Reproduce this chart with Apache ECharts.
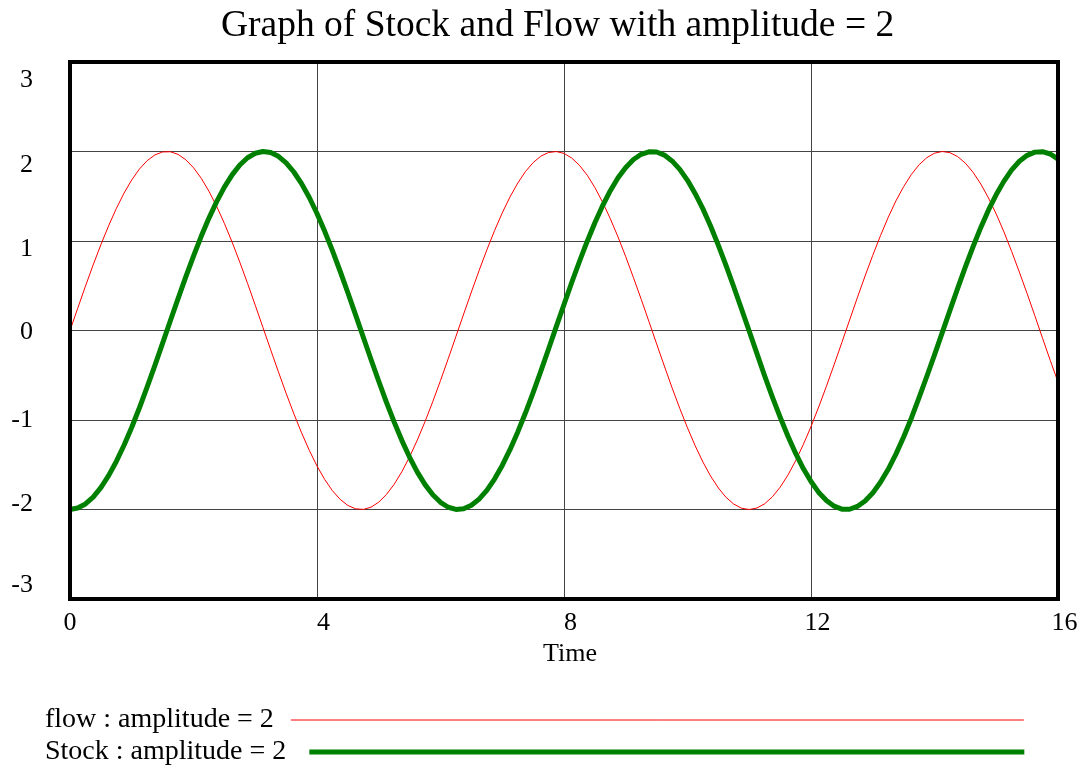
<!DOCTYPE html>
<html>
<head>
<meta charset="utf-8">
<script src="https://cdn.jsdelivr.net/npm/echarts@6/dist/echarts.min.js"></script>
<style>html,body{margin:0;padding:0;background:#fff}#c{width:1084px;height:769px}</style>
</head>
<body>
<div id="c"></div>
<script>
// Time axis samples (read every 0.125 time units, 0..16)
var times = [];
for (var i = 0; i <= 128; i++) times.push(i * 0.125);

var flowValues = [0, 0.249, 0.495, 0.733, 0.959, 1.170, 1.363, 1.535, 1.683, 1.805, 1.898, 1.962, 1.995, 1.997, 1.968, 1.908,
  1.819, 1.701, 1.556, 1.387, 1.197, 0.988, 0.763, 0.527, 0.282, 0.033, -0.216, -0.462, -0.702, -0.930, -1.143, -1.339,
  -1.514, -1.665, -1.790, -1.887, -1.955, -1.992, -1.999, -1.974, -1.918, -1.832, -1.718, -1.577, -1.411, -1.223, -1.017, -0.794,
  -0.559, -0.315, -0.066, 0.184, 0.430, 0.670, 0.900, 1.116, 1.314, 1.492, 1.646, 1.775, 1.876, 1.948, 1.989, 1.999,
  1.979, 1.927, 1.846, 1.736, 1.597, 1.434, 1.249, 1.045, 0.824, 0.590, 0.349, 0.101, -0.150, -0.397, -0.640, -0.871,
  -1.088, -1.289, -1.470, -1.628, -1.760, -1.865, -1.940, -1.986, -2.000, -1.983, -1.936, -1.858, -1.751, -1.617, -1.457, -1.275,
  -1.073, -0.854, -0.622, -0.380, -0.133, 0.117, 0.366, 0.608, 0.840, 1.060, 1.264, 1.448, 1.607, 1.743, 1.852, 1.931,
  1.981, 2.000, 1.987, 1.943, 1.870, 1.767, 1.636, 1.480, 1.301, 1.101, 0.882, 0.651, 0.412, 0.165, -0.087, -0.335, -0.576];

var stockValues = [-2.000, -1.984, -1.938, -1.861, -1.755, -1.622, -1.463, -1.282, -1.081, -0.863, -0.631, -0.390, -0.141, 0.109, 0.356, 0.599,
  0.832, 1.052, 1.256, 1.440, 1.602, 1.739, 1.849, 1.930, 1.980, 2.000, 1.988, 1.946, 1.873, 1.771, 1.641, 1.486,
  1.307, 1.108, 0.892, 0.662, 0.422, 0.175, -0.075, -0.324, -0.567, -0.802, -1.024, -1.230, -1.417, -1.582, -1.722, -1.835,
  -1.920, -1.975, -1.999, -1.992, -1.953, -1.884, -1.786, -1.660, -1.508, -1.332, -1.136, -0.922, -0.693, -0.454, -0.207, 0.043,
  0.291, 0.536, 0.771, 0.995, 1.204, 1.394, 1.562, 1.706, 1.822, 1.911, 1.969, 1.997, 1.994, 1.960, 1.895, 1.800,
  1.678, 1.529, 1.359, 1.165, 0.951, 0.724, 0.486, 0.240, -0.009, -0.258, -0.508, -0.745, -0.967, -1.178, -1.371, -1.542,
  -1.688, -1.809, -1.900, -1.963, -1.996, -1.997, -1.966, -1.905, -1.815, -1.696, -1.551, -1.381, -1.190, -0.980, -0.751, -0.514,
  -0.273, -0.024, 0.225, 0.471, 0.710, 0.938, 1.152, 1.347, 1.519, 1.669, 1.795, 1.891, 1.957, 1.993, 1.998, 1.972, 1.915];

var seriesNames = ['flow : amplitude = 2', 'Stock : amplitude = 2'];
var titleText = 'Graph of Stock and Flow with amplitude = 2';
var xAxisName = 'Time';

var FONT = '"Liberation Serif", "Times New Roman", serif';

function pairs(xs, ys) { return xs.map(function (x, i) { return [x, ys[i]]; }); }

var yLabelShift = { '3': 'p3', '2': 'p2', '1': 'p1', '0': 'p0', '-1': 'm1', '-2': 'm2', '-3': 'm3' };
function rs(pad) { return { fontFamily: FONT, fontSize: 26, color: '#000', padding: pad }; }

var hiddenSymbol = { color: 'rgba(0,0,0,0)', borderWidth: 0, opacity: 0 };

var chart = echarts.init(document.getElementById('c'), null, { renderer: 'canvas' });
chart.setOption({
  animation: false,
  backgroundColor: '#fff',
  title: {
    text: titleText,
    left: 216, top: 2,
    textStyle: { fontFamily: FONT, fontSize: 37.5, fontWeight: 'normal', color: '#000' }
  },
  grid: {
    left: 70, top: 62, right: 26, bottom: 170,
    show: true, borderColor: '#000', borderWidth: 4, backgroundColor: 'transparent', z: 5
  },
  xAxis: {
    type: 'value', min: 0, max: 16, interval: 4,
    name: xAxisName, nameLocation: 'middle', nameGap: 35,
    nameTextStyle: { fontFamily: FONT, fontSize: 26, color: '#000', padding: [0, 0, 0, 12] },
    axisLine: { show: false }, axisTick: { show: false },
    axisLabel: {
      fontFamily: FONT, fontSize: 26, color: '#000', margin: 11,
      formatter: function (v) { return v === 0 ? '{a|' + v + '}' : '{b|' + v + '}'; },
      rich: {
        a: rs([0, 0, 0, 0]),
        b: rs([0, 0, 0, 13])
      }
    },
    splitLine: { show: true, showMinLine: false, showMaxLine: false, lineStyle: { color: '#444', width: 1 } }
  },
  yAxis: {
    type: 'value', min: -3, max: 3, interval: 1,
    axisLine: { show: false }, axisTick: { show: false },
    axisLabel: {
      margin: 37, fontFamily: FONT, fontSize: 26, color: '#000',
      formatter: function (v) { return '{' + yLabelShift[String(v)] + '|' + v + '}'; },
      rich: {
        p3: rs([37, 0, 0, 0]), p2: rs([27, 0, 0, 0]), p1: rs([16, 0, 0, 0]), p0: rs([4, 0, 0, 0]),
        m1: rs([0, 0, 0, 0]), m2: rs([0, 0, 10, 0]), m3: rs([0, 0, 28, 0])
      }
    },
    splitLine: { show: true, showMinLine: false, showMaxLine: false, lineStyle: { color: '#444', width: 1 } }
  },
  legend: [
    {
      data: [seriesNames[0]], left: 40, top: 701, align: 'right',
      itemWidth: 733, itemHeight: 12,
      lineStyle: { width: 1 }, itemStyle: hiddenSymbol,
      textStyle: { fontFamily: FONT, fontSize: 28, color: '#000', padding: [0, 12, 0, 0] },
      selectedMode: false
    },
    {
      data: [seriesNames[1]], left: 40, top: 733, align: 'right',
      itemWidth: 715, itemHeight: 12,
      lineStyle: { width: 5 }, itemStyle: hiddenSymbol,
      textStyle: { fontFamily: FONT, fontSize: 28, color: '#000', padding: [0, 18, 0, 0] },
      selectedMode: false
    }
  ],
  series: [
    {
      name: seriesNames[0], type: 'line', data: pairs(times, flowValues),
      symbol: 'none', smooth: false, lineStyle: { color: '#ff0000', width: 1, join: 'round' }, itemStyle: { color: '#ff0000' },
      z: 3
    },
    {
      name: seriesNames[1], type: 'line', data: pairs(times, stockValues),
      symbol: 'none', smooth: false, lineStyle: { color: '#008000', width: 5, join: 'round' }, itemStyle: { color: '#008000' },
      z: 4
    }
  ]
});
</script>
</body>
</html>
